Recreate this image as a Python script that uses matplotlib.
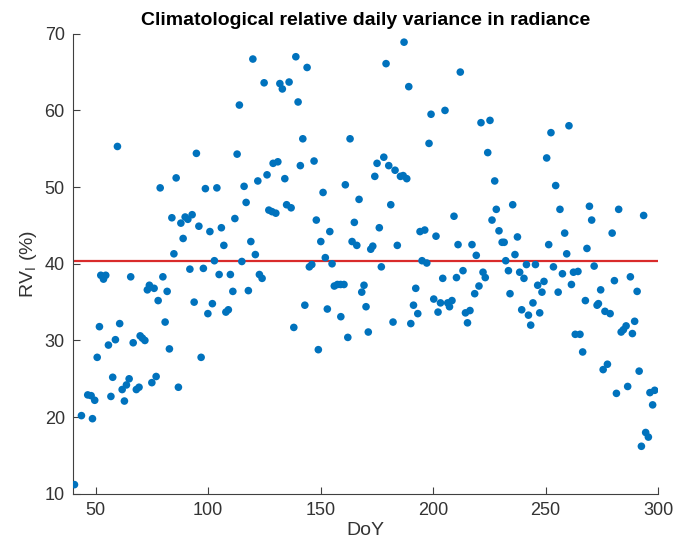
import numpy as np
import matplotlib
matplotlib.use('Agg')
from matplotlib import pyplot as plt

# day of year and relative daily variance (%)
doy = [
    59.7, 94.8, 85.8, 78.7, 98.8, 83.9, 87.9, 89.8, 91.0, 92.9, 95.9, 100.8, 88.9, 84.8,
    52.3, 54.5, 53.5, 65.6, 79.9, 91.9, 97.9,
    73.0, 73.9, 76.0, 77.8, 81.8, 80.9, 82.8, 93.8, 99.9, 96.9, 86.8, 75.0, 76.9,
    68.1, 69.3, 64.9, 63.7, 61.8, 62.8, 56.8, 57.6, 46.5, 48.0, 49.6, 43.7, 48.6, 40.6,
    50.7, 51.7, 55.7, 58.8, 60.7, 66.7, 69.8, 70.8, 71.9,
    119.9, 139.0, 144.0, 124.9, 131.9, 133.0, 136.0, 140.0, 113.9, 142.1, 163.1, 112.9,
    128.9, 131.0, 126.2, 122.1, 134.1, 141.0, 147.1, 103.9, 116.0, 116.9, 161.0, 151.1,
    167.1, 127.0, 128.4, 130.1, 134.9, 136.9, 111.9, 105.9, 107.0, 119.0, 121.0, 102.8,
    115.0, 148.1, 165.0, 154.1, 150.1, 164.0, 166.1, 152.1, 155.1, 145.0, 146.1, 104.9,
    109.9, 122.8, 124.0,
    101.9, 111.0, 117.9, 107.9, 109.0, 138.1, 143.0, 149.0, 153.0, 156.1, 157.5, 158.9,
    160.4, 159.0, 162.1,
    187.1, 179.1, 189.2, 212.1, 199.1, 205.3, 221.3, 225.3, 198.2, 224.3, 178.1, 175.1,
    180.3, 183.1, 185.5, 186.7, 188.3, 174.1, 181.2, 227.4, 228.1, 226.2, 209.3, 176.1,
    194.2, 196.3, 201.3, 229.3, 230.7, 231.6, 172.3, 173.2, 184.1, 211.1, 217.3, 219.2,
    195.1, 197.2, 232.3, 177.0, 213.3, 222.2, 223.2, 233.5,
    169.3, 168.3, 170.2, 171.2, 182.2, 190.1, 191.3, 193.2, 192.3, 204.3, 210.4, 200.3,
    203.3, 202.2, 206.5, 207.3, 208.4, 214.4, 216.4, 215.3, 218.5, 220.4,
    260.4, 252.4, 250.5, 254.5, 235.4, 256.4, 269.5, 282.5, 293.6, 270.5, 237.5, 258.5,
    279.6, 251.4, 236.4, 259.4, 268.4, 241.5, 245.5, 253.5, 271.6, 238.5, 257.5, 262.4,
    264.4, 287.7,
    240.4, 234.2, 239.4, 242.4, 243.4, 244.4, 246.5, 249.3, 248.4, 247.4, 255.6, 261.5,
    267.7, 272.9, 273.5, 274.5, 280.6, 290.7, 276.4, 278.7, 289.6, 283.6, 284.6, 285.8,
    288.6, 263.2, 265.3, 266.5, 275.6, 277.5, 291.6, 281.5, 286.5, 296.4, 298.5, 297.6,
    294.5, 295.7, 292.6,
]
rv = [
    55.3, 54.4, 51.2, 49.9, 49.8, 46.0, 45.3, 46.1, 45.8, 46.4, 44.9, 44.2, 43.3, 41.3,
    38.5, 38.5, 38.0, 38.3, 38.3, 39.3, 39.4,
    36.6, 37.2, 36.8, 35.2, 36.4, 32.4, 28.9, 35.0, 33.5, 27.8, 23.9, 24.5, 25.3,
    23.6, 23.9, 25.0, 24.2, 23.6, 22.1, 22.7, 25.2, 22.9, 22.8, 22.2, 20.2, 19.8, 11.2,
    27.8, 31.8, 29.4, 30.1, 32.2, 29.7, 30.6, 30.3, 30.0,
    66.7, 67.0, 65.6, 63.6, 63.5, 62.8, 63.7, 61.1, 60.7, 56.3, 56.3, 54.3,
    53.1, 53.3, 51.6, 50.8, 51.1, 52.8, 53.4, 49.9, 50.1, 48.0, 50.3, 49.3,
    48.4, 47.0, 46.8, 46.6, 47.7, 47.3, 45.9, 44.7, 42.4, 42.9, 41.2, 40.4,
    40.3, 45.7, 45.4, 44.2, 42.9, 42.9, 42.4, 40.8, 40.0, 39.6, 39.9, 38.6,
    38.6, 38.6, 38.1,
    34.8, 36.4, 36.5, 33.7, 34.0, 31.7, 34.6, 28.8, 34.1, 37.1, 37.3, 37.3,
    37.3, 33.1, 30.4,
    68.9, 66.1, 63.1, 65.0, 59.5, 60.0, 58.4, 58.7, 55.7, 54.5, 53.9, 53.1,
    52.8, 52.2, 51.4, 51.5, 51.1, 51.4, 47.7, 50.8, 47.1, 45.7, 46.2, 44.7,
    44.2, 44.4, 43.6, 44.3, 42.8, 42.8, 41.9, 42.3, 42.4, 42.5, 42.5, 41.1,
    40.4, 40.1, 40.4, 39.6, 39.1, 38.9, 38.2, 39.1,
    37.2, 36.3, 34.4, 31.1, 32.4, 32.2, 34.6, 33.5, 36.8, 38.1, 38.2, 35.4,
    34.9, 33.7, 34.9, 34.4, 35.2, 33.6, 33.9, 32.3, 36.1, 37.1,
    58.0, 57.1, 53.8, 50.2, 47.7, 47.1, 47.5, 47.1, 46.3, 45.7, 43.5, 44.0,
    44.0, 42.5, 41.2, 41.3, 42.0, 39.9, 39.9, 39.6, 39.7, 38.9, 38.7, 38.9,
    39.0, 38.3,
    38.1, 36.1, 34.0, 33.3, 32.0, 34.9, 37.2, 37.7, 36.3, 33.6, 36.3, 37.3,
    35.2, 34.6, 34.8, 36.6, 37.8, 36.4, 33.8, 33.5, 32.5, 31.1, 31.4, 31.9,
    30.9, 30.8, 30.8, 28.5, 26.2, 26.9, 26.0, 23.1, 24.0, 23.2, 23.5, 21.6,
    18.0, 17.4, 16.2,
]
mean_rv = 40.4

plt.rcParams['font.family'] = ['Liberation Sans', 'DejaVu Sans']

fig = plt.figure(figsize=(6.77, 5.53), dpi=100)
ax = fig.add_axes([0.108, 0.107, 0.864, 0.832])

ax.scatter(doy, rv, s=30, color='#0072BD', edgecolors='none', zorder=3)
ax.axhline(mean_rv, color='#D92B2B', lw=1.6, zorder=2)

ax.set_xlim(40, 300)
ax.set_ylim(10, 70)
ax.set_xticks([50, 100, 150, 200, 250, 300])
ax.set_yticks([10, 20, 30, 40, 50, 60, 70])

for side in ['top', 'right']:
    ax.spines[side].set_visible(False)
for side in ['left', 'bottom']:
    ax.spines[side].set_color('#404040')
    ax.spines[side].set_linewidth(0.8)
ax.tick_params(direction='in', length=5, width=0.8, colors='#404040',
               labelcolor='#333333', labelsize=13, pad=6)

ax.set_xlabel('DoY', fontsize=14, color='#333333', labelpad=2)
ax.set_ylabel(r'RV$_\mathregular{I}$ (%)', fontsize=14, color='#333333', labelpad=4)
ax.set_title('Climatological relative daily variance in radiance',
             fontsize=14, fontweight='bold', pad=6)

plt.savefig('out.png', dpi=100)
